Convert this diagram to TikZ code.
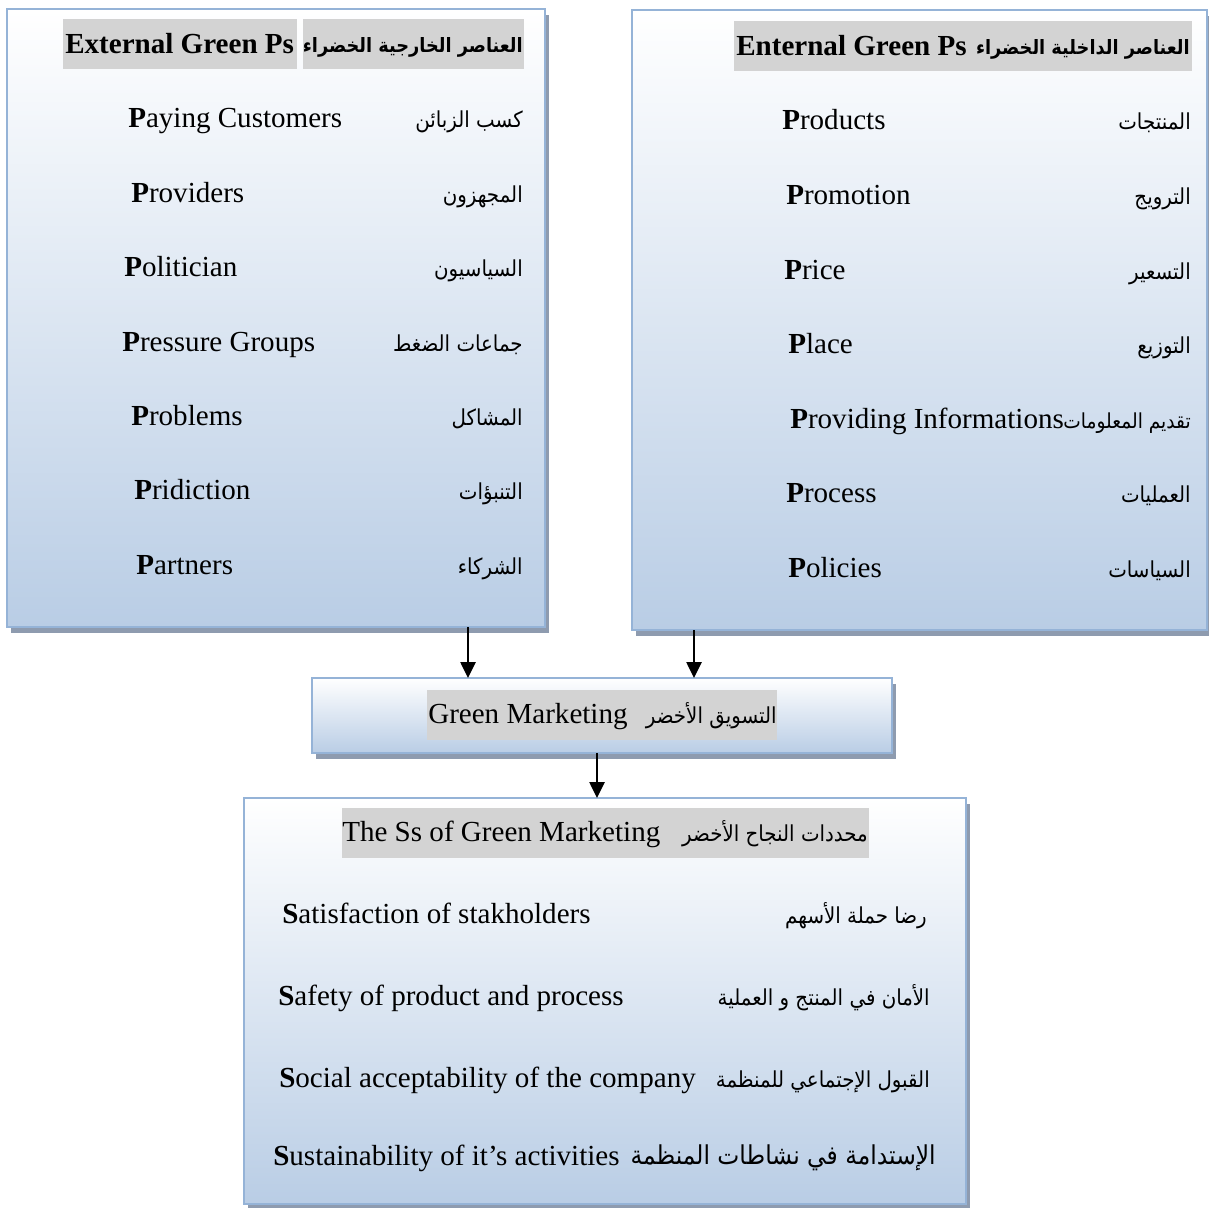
\documentclass[tikz,border=0pt]{standalone}
\usepackage{fontspec}
\setmainfont{Liberation Serif}
\newfontfamily\arabicfont[Script=Arabic,FakeStretch=0.9]{DejaVu Sans}
\TeXXeTstate=1
\usetikzlibrary{arrows.meta,shadows}
\definecolor{bordC}{HTML}{95B3D7}
\definecolor{fillB}{HTML}{B9CDE5}
\definecolor{shadC}{HTML}{8E9BAF}
\definecolor{hlC}{HTML}{D3D3D3}
\newcommand{\artext}[1]{{\arabicfont\beginR #1\endR}}
\tikzset{
  panel/.style={draw=bordC, line width=2.2pt, top color=white, bottom color=fillB,
    inner sep=0pt, outer sep=0pt, anchor=north west,
    drop shadow={shadow xshift=3pt, shadow yshift=-4.5pt, fill=shadC, opacity=1}},
  hlbox/.style={fill=hlC, inner sep=0pt, outer sep=0pt, minimum height=37.5pt, anchor=north west},
  en/.style={inner sep=0pt, anchor=base west, font=\fontsize{21.8}{26}\selectfont},
  arb/.style={inner sep=0pt, anchor=base east, font=\fontsize{16.5}{22}\selectfont},
  arr/.style={-{Triangle[length=12pt,width=11.5pt]}, line width=1.1pt, black}
}
\begin{document}
\begin{tikzpicture}[x=0.75pt,y=-0.75pt]
\useasboundingbox (0,0) rectangle (1209,1207);
% panels
\node[panel, minimum width=403.5pt, minimum height=463.5pt] (ext) at (7,9) {};
\node[panel, minimum width=431.25pt, minimum height=465pt] (int) at (632,10) {};
\node[panel, minimum width=435pt, minimum height=56.25pt] (gm) at (312,678) {};
\node[panel, minimum width=541.5pt, minimum height=304.5pt] (ss) at (244,798) {};

% headers
\node[hlbox, minimum width=175.5pt] (exth) at (63,19) {};
\node[en, font=\fontsize{21.8}{26}\bfseries] (exthT) at (65,53) {External Green Ps};
\node[hlbox, minimum width=165.75pt] (exta) at (303,19) {};
\node[arb, font=\fontsize{14.8}{20}\bfseries] (extaT) at (523,52) {\artext{العناصر الخارجية الخضراء}};

\node[hlbox, minimum width=343.5pt] (inth) at (734,21) {};
\node[en, font=\fontsize{21.8}{26}\bfseries] (inthT) at (736,55) {Enternal Green Ps};
\node[arb, font=\fontsize{14.8}{20}\bfseries] (inthA) at (1190,54) {\artext{العناصر الداخلية الخضراء}};

\node[hlbox, minimum width=262.5pt] (gmh) at (427,690) {};
\node[en] (gmT) at (428,723) {Green Marketing};
\node[arb] (gmA) at (777,723) {\artext{التسويق الأخضر}};

\node[hlbox, minimum width=395.25pt] (ssh) at (342,808) {};
\node[en] (ssT) at (342,841) {The Ss of Green Marketing};
\node[arb] (ssA) at (868,841) {\artext{محددات النجاح الأخضر}};

% external items
\node[en] (e1) at (128,127) {\textbf{P}aying Customers};
\node[en] (e2) at (131,202) {\textbf{P}roviders};
\node[en] (e3) at (124,276) {\textbf{P}olitician};
\node[en] (e4) at (122,351) {\textbf{P}ressure Groups};
\node[en] (e5) at (131,425) {\textbf{P}roblems};
\node[en] (e6) at (134,499) {\textbf{P}ridiction};
\node[en] (e7) at (136,574) {\textbf{P}artners};
\node[arb] (ea1) at (523,127) {\artext{كسب الزبائن}};
\node[arb] (ea2) at (523,202) {\artext{المجهزون}};
\node[arb] (ea3) at (523,276) {\artext{السياسيون}};
\node[arb] (ea4) at (523,351) {\artext{جماعات الضغط}};
\node[arb] (ea5) at (523,425) {\artext{المشاكل}};
\node[arb] (ea6) at (523,499) {\artext{التنبؤات}};
\node[arb] (ea7) at (523,574) {\artext{الشركاء}};

% internal items
\node[en] (i1) at (782,129) {\textbf{P}roducts};
\node[en] (i2) at (786,204) {\textbf{P}romotion};
\node[en] (i3) at (784,279) {\textbf{P}rice};
\node[en] (i4) at (788,353) {\textbf{P}lace};
\node[en] (i5) at (790,428) {\textbf{P}roviding Informations};
\node[en] (i6) at (786,502) {\textbf{P}rocess};
\node[en] (i7) at (788,577) {\textbf{P}olicies};
\node[arb] (ia1) at (1191,129) {\artext{المنتجات}};
\node[arb] (ia2) at (1191,204) {\artext{الترويج}};
\node[arb] (ia3) at (1191,279) {\artext{التسعير}};
\node[arb] (ia4) at (1191,353) {\artext{التوزيع}};
\node[arb, font=\fontsize{15.5}{22}\selectfont] (ia5) at (1191,428) {\artext{تقديم المعلومات}};
\node[arb] (ia6) at (1191,502) {\artext{العمليات}};
\node[arb] (ia7) at (1191,577) {\artext{السياسات}};

% Ss items
\node[en] (s1) at (282,923) {\textbf{S}atisfaction of stakholders};
\node[en] (s2) at (278,1005) {\textbf{S}afety of product and process};
\node[en] (s3) at (279,1087) {\textbf{S}ocial acceptability of the company};
\node[en] (s4) at (273,1165) {\textbf{S}ustainability of it’s activities};
\node[arb] (sa1) at (927,923) {\artext{رضا حملة الأسهم}};
\node[arb] (sa2) at (930,1005) {\artext{الأمان في المنتج و العملية}};
\node[arb] (sa3) at (930,1087) {\artext{القبول الإجتماعي للمنظمة}};
\node[arb, font=\fontsize{19.5}{24}\selectfont] (sa4) at (936,1164) {\artext{الإستدامة في نشاطات المنظمة}};

% arrows
\coordinate (c1) at (468,0);
\coordinate (c2) at (694,0);
\coordinate (c3) at (597,0);
\draw[arr] (ext.south -| c1) -- (gm.north -| c1);
\draw[arr] (int.south -| c2) -- (gm.north -| c2);
\draw[arr] (gm.south -| c3) -- (ss.north -| c3);
\end{tikzpicture}
\end{document}
